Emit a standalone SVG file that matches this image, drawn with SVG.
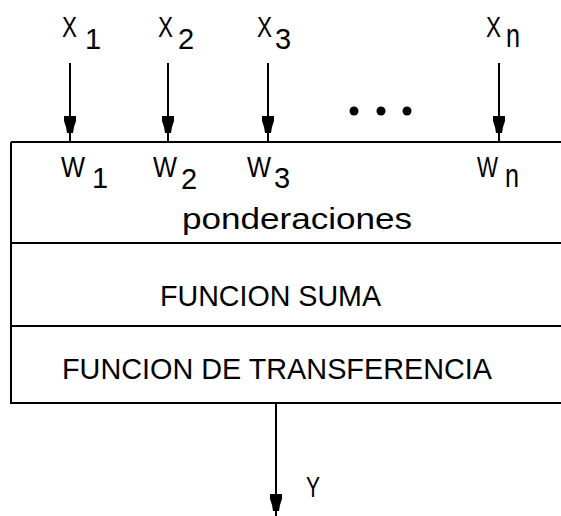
<svg xmlns="http://www.w3.org/2000/svg" width="561" height="516" viewBox="0 0 561 516">
<style>
.t{font-family:"Liberation Sans",Arial,sans-serif;fill:#000}
.big{font-size:30px}
.lx{font-size:29px}
.sub{font-size:29px}
.nn{font-size:34px}
.ln{stroke:#000;stroke-width:2;fill:none}
.ah{fill:#000}
</style>
<defs>
<polygon id="head" points="-6,0 6,0 6,5 4,11 3,17 -3,17 -4,11 -6,5"/>
</defs>
<rect width="561" height="516" fill="#fff"/>
<g id="connectors">
<g id="in1"><line class="ln" x1="70" y1="63" x2="70" y2="142"/><use href="#head" x="70" y="116" class="ah"/></g>
<g id="in2"><line class="ln" x1="168" y1="63" x2="168" y2="142"/><use href="#head" x="168" y="116" class="ah"/></g>
<g id="in3"><line class="ln" x1="268" y1="63" x2="268" y2="142"/><use href="#head" x="268" y="116" class="ah"/></g>
<g id="inn"><line class="ln" x1="499" y1="63" x2="499" y2="142"/><use href="#head" x="499" y="116" class="ah"/></g>
<g id="out"><line class="ln" x1="276" y1="403" x2="276" y2="516"/><use href="#head" x="276" y="494" class="ah"/></g>
</g>
<g id="inputs">
<g id="x1"><text class="t lx" x="62" y="37" textLength="15" lengthAdjust="spacingAndGlyphs">X</text><text class="t sub" x="85" y="49">1</text></g>
<g id="x2"><text class="t lx" x="158" y="37" textLength="15" lengthAdjust="spacingAndGlyphs">X</text><text class="t sub" x="178" y="49">2</text></g>
<g id="x3"><text class="t lx" x="257" y="37" textLength="15" lengthAdjust="spacingAndGlyphs">X</text><text class="t sub" x="275" y="49">3</text></g>
<g id="xn"><text class="t lx" x="486" y="37" textLength="15" lengthAdjust="spacingAndGlyphs">X</text><text class="t nn" x="506" y="47" textLength="14" lengthAdjust="spacingAndGlyphs">n</text></g>
<g id="dots"><circle cx="354" cy="111" r="4.5"/><circle cx="381" cy="111" r="4.5"/><circle cx="407" cy="111" r="4.5"/></g>
</g>
<g id="neuron">
<g id="ponderaciones">
<path class="ln" d="M11,142 H562 M11,142 V243 H562"/>
<text class="t lx" x="61" y="177" textLength="24" lengthAdjust="spacingAndGlyphs">W</text><text class="t sub" x="92" y="188">1</text>
<text class="t lx" x="153" y="177" textLength="24" lengthAdjust="spacingAndGlyphs">W</text><text class="t sub" x="181" y="189">2</text>
<text class="t lx" x="247" y="177" textLength="24" lengthAdjust="spacingAndGlyphs">W</text><text class="t sub" x="274" y="188">3</text>
<text class="t lx" x="477" y="177" textLength="21" lengthAdjust="spacingAndGlyphs">W</text><text class="t nn" x="505" y="187" textLength="14" lengthAdjust="spacingAndGlyphs">n</text>
<text class="t big" x="182" y="229" textLength="230" lengthAdjust="spacingAndGlyphs">ponderaciones</text>
</g>
<g id="suma">
<path class="ln" d="M11,243 V326 H562"/>
<text class="t big" x="160" y="306" textLength="221" lengthAdjust="spacingAndGlyphs">FUNCION SUMA</text>
</g>
<g id="transferencia">
<path class="ln" d="M11,326 V403 H562"/>
<text class="t big" x="62" y="379" textLength="430" lengthAdjust="spacingAndGlyphs">FUNCION DE TRANSFERENCIA</text>
</g>
</g>
<g id="output"><text class="t lx" x="306" y="497" textLength="14" lengthAdjust="spacingAndGlyphs">Y</text></g>
</svg>
